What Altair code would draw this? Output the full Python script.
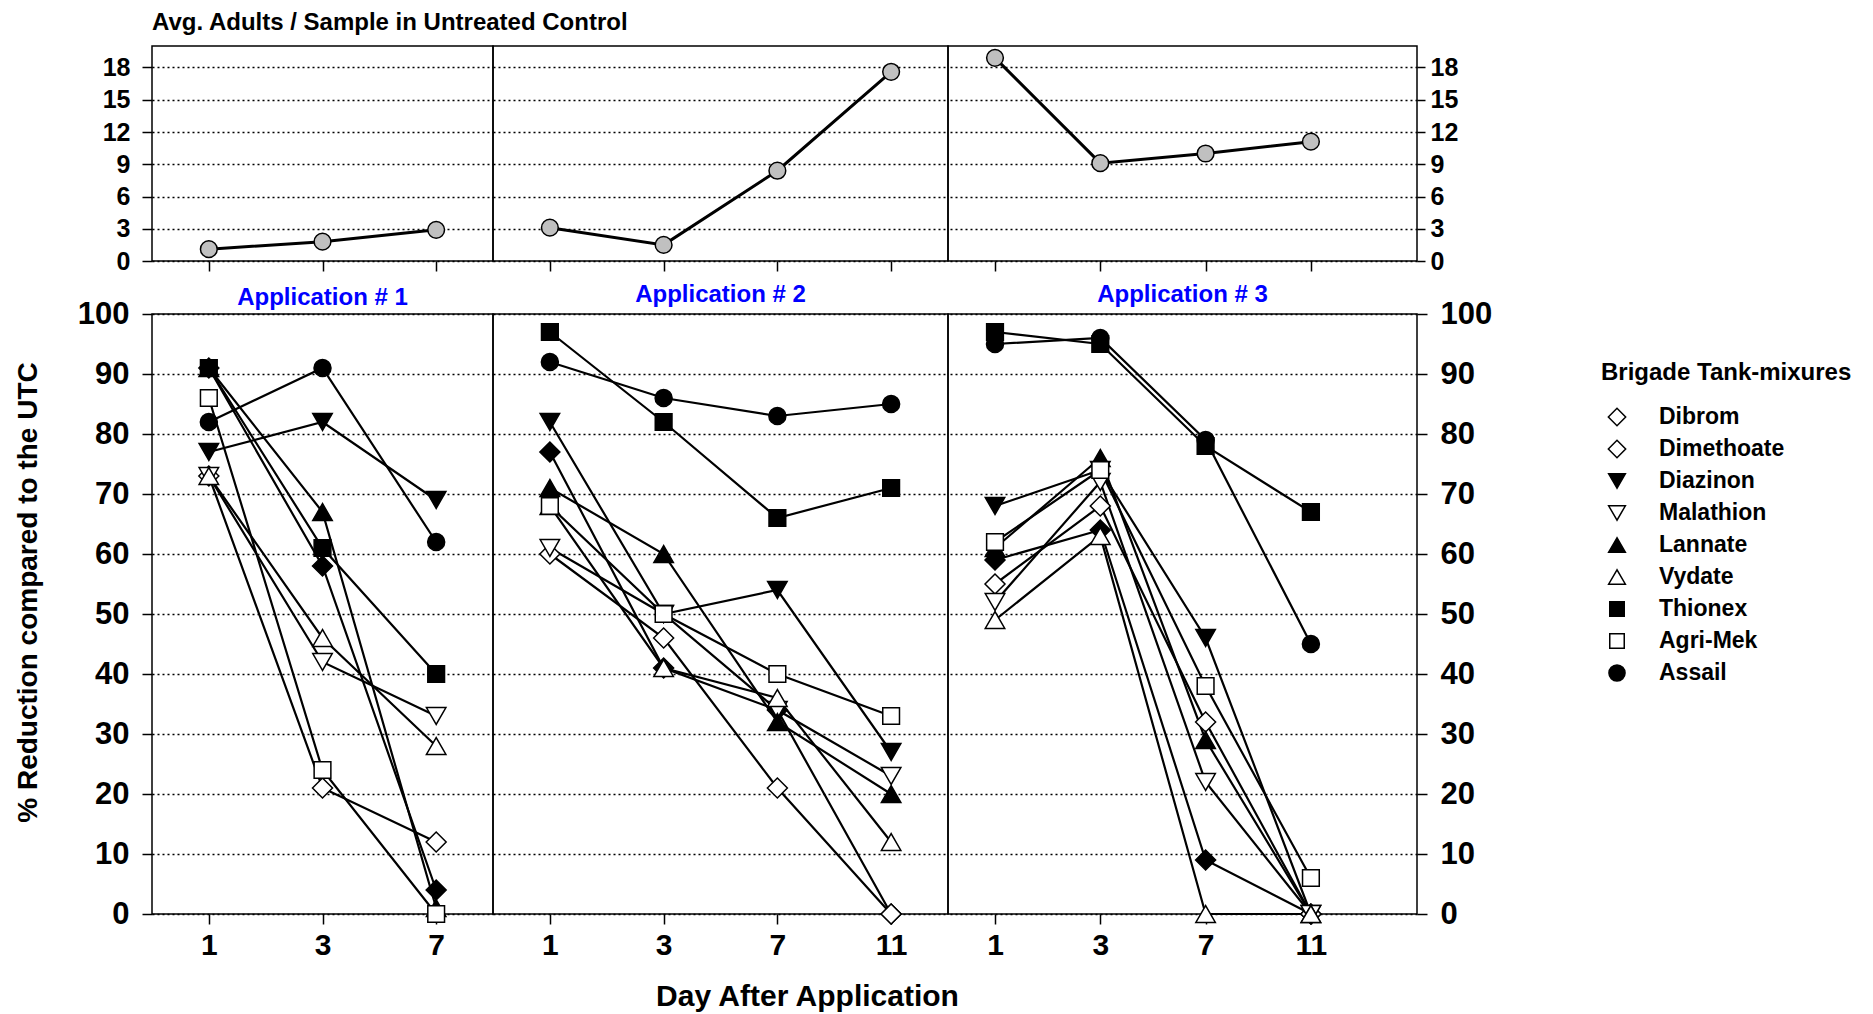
import altair as alt
import pandas as pd

FONT = "Liberation Sans"

# ---------------- data ----------------
series = ["Dibrom", "Dimethoate", "Diazinon", "Malathion", "Lannate",
          "Vydate", "Thionex", "Agri-Mek", "Assail"]
shapes = ["diamond", "diamond", "triangle-down", "triangle-down", "triangle-up",
          "triangle-up", "square", "square", "circle"]
fills = ["black", "white", "black", "white", "black", "white", "black", "white", "black"]
legend_fills = ["white", "white", "black", "white", "black", "white", "black", "white", "black"]
sizes = [400, 400, 380, 380, 380, 380, 280, 280, 290]
legend_sizes = [300, 300, 280, 280, 280, 280, 210, 210, 260]

app_titles = ["Application # 1", "Application # 2", "Application # 3"]
app_days = [[1, 3, 7], [1, 3, 7, 11], [1, 3, 7, 11]]

app1 = {
    "Dibrom":     [91, 58, 4],
    "Dimethoate": [73, 21, 12],
    "Diazinon":   [77, 82, 69],
    "Malathion":  [73, 42, 33],
    "Lannate":    [91, 67, 1],
    "Vydate":     [73, 46, 28],
    "Thionex":    [91, 61, 40],
    "Agri-Mek":   [86, 24, 0],
    "Assail":     [82, 91, 62],
}
app2 = {
    "Dibrom":     [77, 41, 34, 0],
    "Dimethoate": [60, 46, 21, 0],
    "Diazinon":   [82, 50, 54, 27],
    "Malathion":  [61, 50, 34, 23],
    "Lannate":    [71, 60, 32, 20],
    "Vydate":     [68, 41, 36, 12],
    "Thionex":    [97, 82, 66, 71],
    "Agri-Mek":   [68, 50, 40, 33],
    "Assail":     [92, 86, 83, 85],
}
app3 = {
    "Dibrom":     [59, 64, 9, 0],
    "Dimethoate": [55, 68, 32, 0],
    "Diazinon":   [68, 74, 46, 0],
    "Malathion":  [52, 72, 22, 0],
    "Lannate":    [61, 76, 29, 0],
    "Vydate":     [49, 63, 0, 0],
    "Thionex":    [97, 95, 78, 67],
    "Agri-Mek":   [62, 74, 38, 6],
    "Assail":     [95, 96, 79, 45],
}
apps = [app1, app2, app3]

utc_app1 = [1.1, 1.8, 2.9]
utc_app2 = [3.1, 1.5, 8.4, 17.6]
utc_app3 = [18.9, 9.1, 10.0, 11.1]
utcs = [utc_app1, utc_app2, utc_app3]

top_title = "Avg. Adults / Sample in Untreated Control"
y_title = "% Reduction compared to the UTC"
x_title = "Day After Application"
legend_title = "Brigade Tank-mixures"

# ---------------- layout ----------------
widths = [341, 455, 469]
pads = [0.5, 0.5, 0.727]
aligns = [0.5, 0.5, 0.307]
title_offsets = [-12, 7, -8.5]
BOT_H = 600
TOP_H = 215
LEG_GAP = 189

grid_kw = dict(grid=True, gridDash=[2, 3], gridColor="black", gridWidth=1.5, gridOpacity=1)


def xscale(k):
    return alt.Scale(type="point", domain=app_days[k], padding=pads[k], align=aligns[k])


def bottom_panel(k):
    rows = []
    for i, s in enumerate(series):
        for d, v in zip(app_days[k], apps[k][s]):
            rows.append(dict(series=s, day=d, value=v, shape=shapes[i],
                             fill=fills[i], size=sizes[i]))
    df = pd.DataFrame(rows)

    xkw = dict(labelAngle=0, labelFontSize=30, labelPadding=6, tickSize=10,
               tickColor="black", tickWidth=1.5, domain=False, grid=False)
    if k == 1:
        xaxis = alt.Axis(title=x_title, titleFontSize=30, titleX=314, titleY=82,
                         titleAlign="center", titleBaseline="middle", **xkw)
    else:
        xaxis = alt.Axis(title=None, **xkw)
    xenc = alt.X("day:O", scale=xscale(k), axis=xaxis)

    vals = list(range(0, 101, 10))
    if k == 0:
        yaxis = alt.Axis(orient="left", values=vals, tickSize=10, tickColor="black",
                         tickWidth=1.5, domain=False, labelFontSize=31, labelPadding=13,
                         title=y_title, titleFontSize=28, titleAngle=-90, titleX=-124,
                         titleY=278, titleAlign="center", titleBaseline="middle", **grid_kw)
    elif k == 1:
        yaxis = alt.Axis(values=vals, labels=False, ticks=False, domain=False,
                         title=None, **grid_kw)
    else:
        yaxis = alt.Axis(orient="right", values=vals, tickSize=10, tickColor="black",
                         tickWidth=1.5, domain=False, labelFontSize=31, labelPadding=13,
                         title=None, **grid_kw)
    yenc = alt.Y("value:Q", scale=alt.Scale(domain=[0, 100], nice=False), axis=yaxis)

    lines = alt.Chart(df).mark_line(color="black", strokeWidth=2.2).encode(
        x=xenc, y=yenc, detail="series:N")
    pts = alt.Chart(df).mark_point(opacity=1, stroke="black", strokeWidth=1.5).encode(
        x=xenc, y=yenc,
        shape=alt.Shape("shape:N", scale=None),
        fill=alt.Fill("fill:N", scale=None),
        size=alt.Size("size:Q", scale=None),
    )
    return alt.layer(lines, pts).properties(
        width=widths[k], height=BOT_H,
        title=alt.Title(app_titles[k], color="#0000FF", fontSize=24, font=FONT,
                        fontWeight="bold", offset=title_offsets[k]))


def top_panel(k):
    df = pd.DataFrame({"day": app_days[k], "utc": utcs[k]})
    xenc = alt.X("day:O", scale=xscale(k),
                 axis=alt.Axis(labels=False, title=None, tickSize=10, tickColor="black",
                               tickWidth=1.5, domain=False, grid=False))
    vals = list(range(0, 19, 3))
    if k == 0:
        yaxis = alt.Axis(orient="left", values=vals, tickSize=10, tickColor="black",
                         tickWidth=1.5, domain=False, labelFontSize=25, labelPadding=12,
                         title=None, **grid_kw)
    elif k == 1:
        yaxis = alt.Axis(values=vals, labels=False, ticks=False, domain=False,
                         title=None, **grid_kw)
    else:
        yaxis = alt.Axis(orient="right", values=vals, tickSize=8, tickColor="black",
                         tickWidth=1.5, domain=False, labelFontSize=25, labelPadding=5,
                         title=None, **grid_kw)
    yenc = alt.Y("utc:Q", scale=alt.Scale(domain=[0, 20], nice=False), axis=yaxis)
    line = alt.Chart(df).mark_line(color="black", strokeWidth=3).encode(x=xenc, y=yenc)
    pts = alt.Chart(df).mark_point(shape="circle", size=280, fill="#C0C0C0", opacity=1,
                                   stroke="black", strokeWidth=1.5).encode(x=xenc, y=yenc)
    ch = alt.layer(line, pts).properties(width=widths[k], height=TOP_H)
    if k == 0:
        ch = ch.properties(title=alt.Title(top_title, anchor="start", frame="group",
                                           fontSize=24, font=FONT, fontWeight="bold",
                                           color="black", offset=11))
    return ch


# ---------------- legend (own panel, right of the bottom row) ----------------
leg_df = pd.DataFrame({"series": series, "shape": shapes, "fill": legend_fills,
                       "size": legend_sizes})
leg_y = alt.Y("series:N", sort=series,
              scale=alt.Scale(type="point", domain=series, range=[103, 359], padding=0),
              axis=None)
leg_pts = alt.Chart(leg_df).mark_point(opacity=1, stroke="black", strokeWidth=1.5).encode(
    x=alt.value(LEG_GAP + 11), y=leg_y,
    shape=alt.Shape("shape:N", scale=None),
    fill=alt.Fill("fill:N", scale=None),
    size=alt.Size("size:Q", scale=None),
)
leg_txt = alt.Chart(leg_df).mark_text(align="left", baseline="middle", font=FONT,
                                      fontSize=23, fontWeight="bold", color="black").encode(
    x=alt.value(LEG_GAP + 53), y=leg_y, text="series:N")
leg_head = alt.Chart(pd.DataFrame({"t": [legend_title]})).mark_text(
    align="left", baseline="middle", font=FONT, fontSize=24, fontWeight="bold",
    color="black").encode(x=alt.value(LEG_GAP - 5), y=alt.value(59), text="t:N")
legend = alt.layer(leg_pts, leg_txt, leg_head).properties(
    width=LEG_GAP + 250, height=BOT_H, view=alt.ViewBackground(stroke="transparent"))

top_row = alt.hconcat(top_panel(0), top_panel(1), top_panel(2), spacing=0, bounds="flush")
bottom_row = alt.hconcat(bottom_panel(0), bottom_panel(1), bottom_panel(2), legend,
                         spacing=0, bounds="flush")

chart = alt.vconcat(top_row, bottom_row, spacing=6).properties(
    padding={"left": 13, "top": 10, "right": 5, "bottom": 0},
    background="white",
).configure_view(stroke="black", strokeWidth=1.5).configure_axis(
    labelFont=FONT, titleFont=FONT, labelColor="black", titleColor="black",
    labelFontWeight="bold", titleFontWeight="bold",
).configure_title(font=FONT, fontWeight="bold")

chart.save("out.html", embed_options={"renderer": "svg", "actions": False})
